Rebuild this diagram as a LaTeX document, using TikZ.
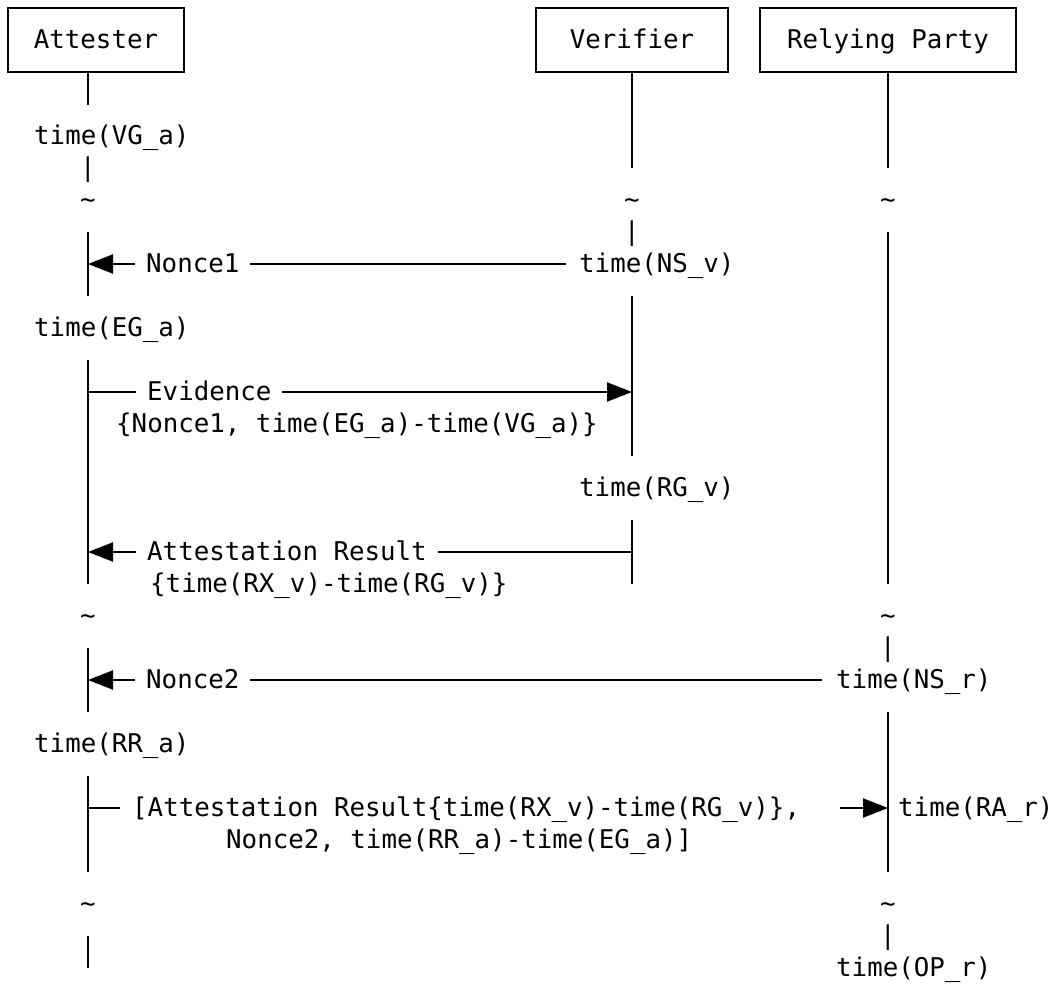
\documentclass[tikz,border=0pt]{standalone}
\usepackage{fontspec}
\newfontfamily\monofont{DejaVu Sans Mono}
\usetikzlibrary{arrows.meta}
\begin{document}
\begin{tikzpicture}[x=1pt,y=-1pt,
  every node/.style={font=\monofont\fontsize{25.8}{32}\selectfont, inner sep=0pt, text height=20pt, text depth=4pt},
  box/.style={draw, line width=2.2pt, minimum height=64pt},
  life/.style={line width=2.2pt},
  msg/.style={line width=2.2pt},
  arr/.style={line width=2.2pt, -{Triangle[length=25pt,width=19pt]}},
  txt/.style={anchor=west},
  lbl/.style={anchor=west, fill=white, inner xsep=11pt},
  glyph/.style={anchor=center}
]
\useasboundingbox[fill=white] (0,0) rectangle (1053,985);

% participant boxes
\node[box, minimum width=176pt] (A) at (96,40) {Attester};
\node[box, minimum width=192pt] (V) at (632,40) {Verifier};
\node[box, minimum width=256pt] (R) at (888,40) {Relying Party};

% Attester lifeline
\draw[life] (A.south -| 88,0) -- ++(0,32);
\node[txt] (vga) at (34,136) {time(VG\_a)};
\node[glyph] (a5) at (88,168) {|};
\node[glyph] (a6) at (88,200) {\textasciitilde};
\draw[life] (88,232) -- (88,296);
\node[txt] (ega) at (34,328) {time(EG\_a)};
\draw[life] (88,360) -- (88,584);
\node[glyph] (a19) at (88,616) {\textasciitilde};
\draw[life] (88,648) -- (88,712);
\node[txt] (rra) at (34,744) {time(RR\_a)};
\draw[life] (88,776) -- (88,872);
\node[glyph] (a28) at (88,904) {\textasciitilde};
\draw[life] (88,936) -- (88,968);

% Verifier lifeline
\draw[life] (V.south) -- (632,168);
\node[glyph] (v6) at (632,200) {\textasciitilde};
\node[glyph] (v7) at (632,232) {|};
\draw[life] (632,296) -- (632,456);
\node[txt] (rgv) at (579,488) {time(RG\_v)};
\draw[life] (632,520) -- (632,584);

% Relying Party lifeline
\draw[life] (R.south) -- (888,168);
\node[glyph] (r6) at (888,200) {\textasciitilde};
\draw[life] (888,232) -- (888,584);
\node[glyph] (r19) at (888,616) {\textasciitilde};
\node[glyph] (r20) at (888,648) {|};
\draw[life] (888,712) -- (888,872);
\node[glyph] (r28) at (888,904) {\textasciitilde};
\node[glyph] (r29) at (888,936) {|};
\node[txt] (opr) at (836,968) {time(OP\_r)};

% Nonce1
\coordinate (a8) at (88,264);
\node[txt, inner xsep=13pt] (nsv) at (566,264) {time(NS\_v)};
\draw[arr] (nsv.west) -- (a8);
\node[lbl] (n1) at (135,264) {Nonce1};

% Evidence
\coordinate (a12) at (88,392);
\coordinate (v12) at (632,392);
\draw[arr] (a12) -- (v12);
\node[lbl] (ev) at (136,392) {Evidence};
\node[txt] (evd) at (116,424) {\{Nonce1, time(EG\_a)-time(VG\_a)\}};

% Attestation Result
\coordinate (v17) at (632,552);
\coordinate (a17) at (88,552);
\draw[arr] (v17) -- (a17);
\node[lbl] (ar) at (136,552) {Attestation Result};
\node[txt] (ard) at (150,584) {\{time(RX\_v)-time(RG\_v)\}};

% Nonce2
\coordinate (a21) at (88,680);
\node[txt, inner xsep=14pt] (nsr) at (822,680) {time(NS\_r)};
\draw[arr] (nsr.west) -- (a21);
\node[lbl] (n2) at (135,680) {Nonce2};

% Final message
\coordinate (a25) at (88,808);
\coordinate (r25) at (888,808);
\coordinate (m25r) at (840,808);
\node[txt, inner xsep=12pt] (m25) at (120,808) {[Attestation Result\{time(RX\_v)-time(RG\_v)\},};
\node[txt] (m26) at (226,840) {Nonce2, time(RR\_a)-time(EG\_a)]};
\draw[msg] (a25) -- (m25.west);
\draw[arr] (m25r) -- (r25);
\node[txt] (rar) at (898,808) {time(RA\_r)};
\end{tikzpicture}
\end{document}
